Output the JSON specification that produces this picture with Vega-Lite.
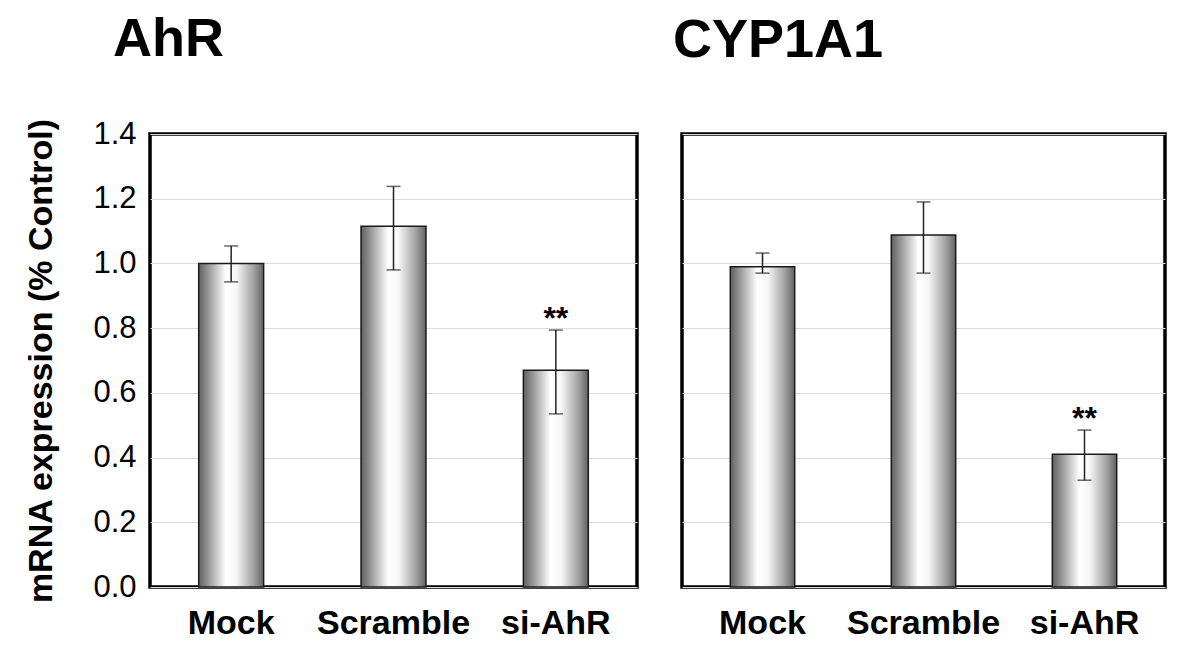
{
  "$schema": "https://vega.github.io/schema/vega-lite/v6.json",
  "padding": {"left": 23, "top": 11, "right": 10, "bottom": 5},
  "background": "white",
  "config": {
    "font": "Liberation Sans",
    "view": {"stroke": "black", "strokeWidth": 3.5},
    "axis": {"gridColor": "#dcdcdc", "gridWidth": 1.2}
  },
  "data": {
    "values": [
      {"panel": "AhR", "group": "Mock", "value": 1.0, "lower": 0.943, "upper": 1.054, "sig": ""},
      {"panel": "AhR", "group": "Scramble", "value": 1.115, "lower": 0.98, "upper": 1.238, "sig": ""},
      {"panel": "AhR", "group": "si-AhR", "value": 0.67, "lower": 0.535, "upper": 0.794, "sig": "**"},
      {"panel": "CYP1A1", "group": "Mock", "value": 0.99, "lower": 0.97, "upper": 1.032, "sig": ""},
      {"panel": "CYP1A1", "group": "Scramble", "value": 1.088, "lower": 0.97, "upper": 1.19, "sig": ""},
      {"panel": "CYP1A1", "group": "si-AhR", "value": 0.41, "lower": 0.33, "upper": 0.485, "sig": "**"}
    ]
  },
  "spacing": 32,
  "hconcat": [
    {
      "width": 487,
      "height": 453,
      "title": {"text": "AhR", "anchor": "start", "frame": "group", "dx": -37, "fontSize": 54, "fontWeight": "bold", "offset": 51, "color": "black"},
      "transform": [{"filter": "datum.panel === 'AhR'"}],
      "encoding": {
        "x": {"field": "group", "type": "nominal", "sort": ["Mock", "Scramble", "si-AhR"],
              "scale": {"paddingInner": 0.6, "paddingOuter": 0.3},
              "axis": {"title": null, "labelAngle": 0, "labelFontSize": 34, "labelFontWeight": "bold", "labelColor": "black", "labelPadding": 19, "ticks": false, "domain": false}}
      },
      "layer": [
        {
          "mark": {"type": "bar", "stroke": "#1a1a1a", "strokeWidth": 1.5,
                   "color": {"gradient": "linear", "x1": 0, "x2": 1, "y1": 0, "y2": 0,
                             "stops": [{"offset": 0, "color": "#606060"}, {"offset": 0.15, "color": "#989898"}, {"offset": 0.42, "color": "#ffffff"}, {"offset": 0.58, "color": "#f6f6f6"}, {"offset": 0.85, "color": "#a0a0a0"}, {"offset": 1, "color": "#626262"}]}},
          "encoding": {
            "y": {"field": "value", "type": "quantitative", "scale": {"domain": [0, 1.4], "nice": false},
                  "axis": {"title": "mRNA expression (% Control)", "titleFontSize": 34, "titleFontWeight": "bold", "titleColor": "black", "titlePadding": 34,
                           "values": [0, 0.2, 0.4, 0.6, 0.8, 1.0, 1.2, 1.4], "format": ".1f", "labelFontSize": 31, "labelColor": "black", "labelPadding": 14, "ticks": false, "domain": false, "grid": true}}
          }
        },
        {
          "mark": {"type": "rule", "color": "#222222", "strokeWidth": 1.5},
          "encoding": {"y": {"field": "lower", "type": "quantitative"}, "y2": {"field": "upper"}}
        },
        {
          "mark": {"type": "tick", "color": "#222222", "thickness": 1.5, "size": 14},
          "encoding": {"y": {"field": "lower", "type": "quantitative"}}
        },
        {
          "mark": {"type": "tick", "color": "#222222", "thickness": 1.5, "size": 14},
          "encoding": {"y": {"field": "upper", "type": "quantitative"}}
        },
        {
          "mark": {"type": "text", "fontSize": 32, "fontWeight": "bold", "baseline": "alphabetic", "dy": -1, "color": "black"},
          "encoding": {"y": {"field": "upper", "type": "quantitative"}, "text": {"field": "sig"}}
        }
      ]
    },
    {
      "width": 483,
      "height": 453,
      "title": {"text": "CYP1A1", "anchor": "start", "frame": "group", "dx": -9, "fontSize": 54, "fontWeight": "bold", "offset": 66, "color": "black"},
      "transform": [{"filter": "datum.panel === 'CYP1A1'"}],
      "encoding": {
        "x": {"field": "group", "type": "nominal", "sort": ["Mock", "Scramble", "si-AhR"],
              "scale": {"paddingInner": 0.6, "paddingOuter": 0.3},
              "axis": {"title": null, "labelAngle": 0, "labelFontSize": 34, "labelFontWeight": "bold", "labelColor": "black", "labelPadding": 19, "ticks": false, "domain": false}}
      },
      "layer": [
        {
          "mark": {"type": "bar", "stroke": "#1a1a1a", "strokeWidth": 1.5,
                   "color": {"gradient": "linear", "x1": 0, "x2": 1, "y1": 0, "y2": 0,
                             "stops": [{"offset": 0, "color": "#606060"}, {"offset": 0.15, "color": "#989898"}, {"offset": 0.42, "color": "#ffffff"}, {"offset": 0.58, "color": "#f6f6f6"}, {"offset": 0.85, "color": "#a0a0a0"}, {"offset": 1, "color": "#626262"}]}},
          "encoding": {
            "y": {"field": "value", "type": "quantitative", "scale": {"domain": [0, 1.4], "nice": false},
                  "axis": {"title": null, "values": [0, 0.2, 0.4, 0.6, 0.8, 1.0, 1.2, 1.4], "labels": false, "ticks": false, "domain": false, "grid": true}}
          }
        },
        {
          "mark": {"type": "rule", "color": "#222222", "strokeWidth": 1.5},
          "encoding": {"y": {"field": "lower", "type": "quantitative"}, "y2": {"field": "upper"}}
        },
        {
          "mark": {"type": "tick", "color": "#222222", "thickness": 1.5, "size": 14},
          "encoding": {"y": {"field": "lower", "type": "quantitative"}}
        },
        {
          "mark": {"type": "tick", "color": "#222222", "thickness": 1.5, "size": 14},
          "encoding": {"y": {"field": "upper", "type": "quantitative"}}
        },
        {
          "mark": {"type": "text", "fontSize": 32, "fontWeight": "bold", "baseline": "alphabetic", "dy": -1, "color": "black"},
          "encoding": {"y": {"field": "upper", "type": "quantitative"}, "text": {"field": "sig"}}
        }
      ]
    }
  ]
}
